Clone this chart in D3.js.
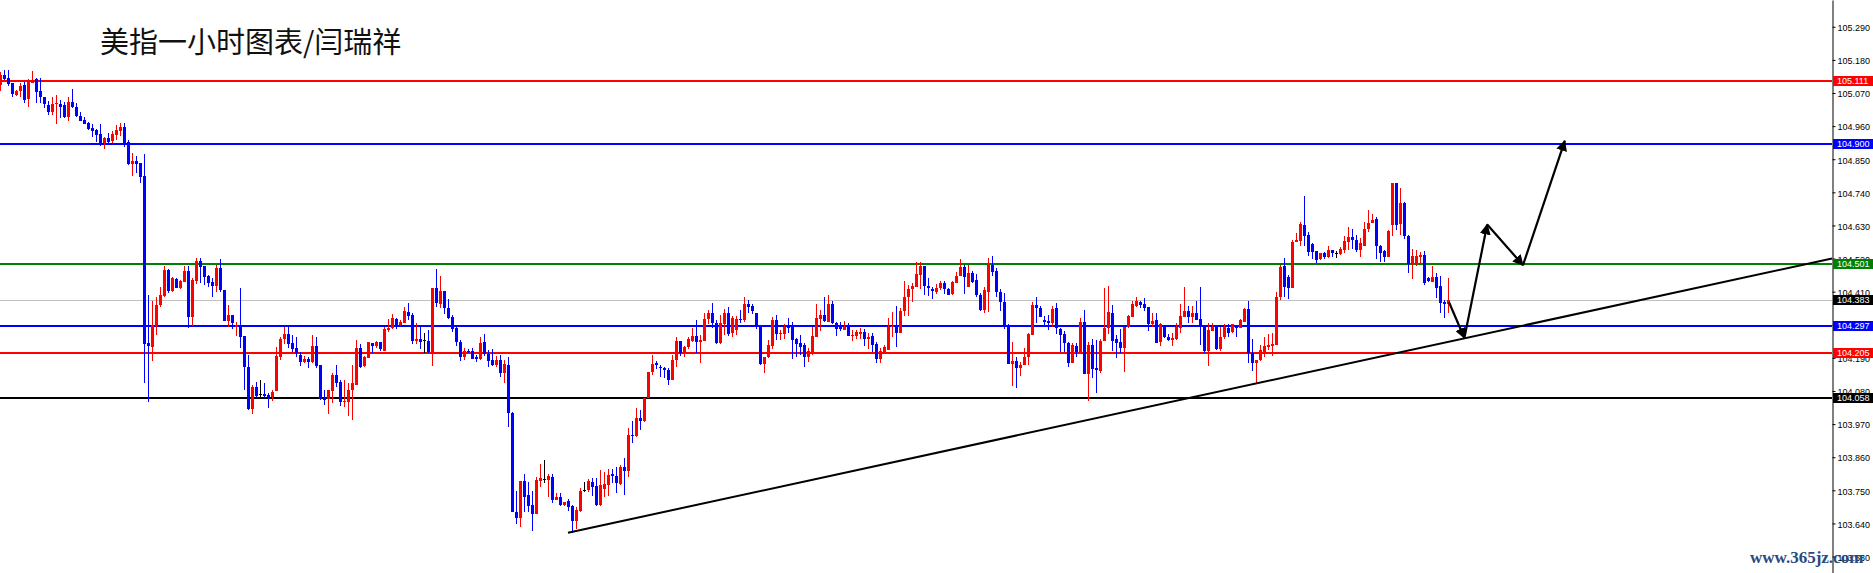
<!DOCTYPE html>
<html><head><meta charset="utf-8">
<script src="https://cdn.jsdelivr.net/npm/d3@7"></script>
<style>html,body{margin:0;padding:0;background:#fff;}svg{display:block;}</style>
</head><body>
<svg id="chart" width="1873" height="573"></svg>
<script>
const open = [
105.097,105.130,105.119,105.102,105.064,105.078,105.097,105.049,105.104,105.116,
105.078,105.056,105.030,105.007,105.033,105.034,105.030,104.991,105.039,105.025,
104.994,104.980,104.969,104.955,104.948,104.934,104.904,104.921,104.910,104.932,
104.944,104.957,104.907,104.834,104.844,104.838,104.794,104.241,104.227,104.296,
104.366,104.396,104.482,104.413,104.452,104.423,104.443,104.479,104.327,104.446,
104.511,104.496,104.462,104.443,104.429,104.488,104.416,104.313,104.333,104.294,
104.294,104.263,104.161,104.020,104.094,104.070,104.070,104.067,104.059,104.080,
104.192,104.254,104.269,104.241,104.223,104.199,104.176,104.187,104.176,104.230,
104.166,104.056,104.052,104.081,104.133,104.110,104.045,104.045,104.083,104.100,
104.223,104.164,104.191,104.238,104.231,104.242,104.213,104.283,104.290,104.319,
104.299,104.307,104.344,104.333,104.247,104.253,104.249,104.247,104.211,104.423,
104.369,104.412,104.355,104.327,104.288,104.243,104.194,104.214,104.213,104.192,
104.185,104.242,104.202,104.183,104.166,104.183,104.139,104.166,104.008,103.679,
103.657,103.781,103.735,103.701,103.671,103.782,103.787,103.784,103.795,103.718,
103.729,103.701,103.715,103.698,103.648,103.682,103.751,103.751,103.779,103.764,
103.701,103.754,103.768,103.804,103.799,103.770,103.829,103.815,103.934,103.931,
103.989,103.980,104.058,104.144,104.172,104.161,104.157,104.150,104.117,104.183,
104.247,104.207,104.227,104.247,104.263,104.244,104.247,104.318,104.340,104.307,
104.240,104.303,104.340,104.272,104.283,104.319,104.316,104.369,104.362,104.340,
104.296,104.169,104.192,104.230,104.316,104.269,104.269,104.294,104.294,104.253,
104.238,104.233,104.192,104.211,104.260,104.319,104.333,104.310,104.369,104.307,
104.292,104.283,104.292,104.263,104.263,104.268,104.276,104.254,104.263,104.236,
104.185,104.211,104.216,104.292,104.296,104.274,104.346,104.391,104.418,104.427,
104.466,104.495,104.430,104.419,104.410,104.421,104.438,104.419,104.402,104.438,
104.463,104.493,104.427,104.473,104.449,104.399,104.349,104.410,104.499,104.479,
104.408,104.375,104.296,104.170,104.180,104.157,104.165,104.192,104.266,104.366,
104.357,104.316,104.313,104.307,104.357,104.286,104.269,104.241,104.174,104.230,
104.211,104.310,104.137,104.233,104.155,104.148,104.246,104.288,104.340,104.253,
104.244,104.222,104.292,104.327,104.363,104.376,104.369,104.358,104.303,104.316,
104.244,104.294,104.258,104.249,104.253,104.288,104.327,104.347,104.325,104.340,
104.319,104.296,104.213,104.280,104.294,104.220,104.258,104.288,104.277,104.296,
104.288,104.310,104.351,104.205,104.174,104.183,104.211,104.227,104.230,104.233,
104.391,104.495,104.460,104.421,104.575,104.579,104.632,104.598,104.568,104.545,
104.518,104.540,104.526,104.548,104.537,104.535,104.548,104.576,104.593,104.582,
104.548,104.562,104.618,104.637,104.652,104.562,104.545,104.526,104.632,104.772,
104.635,104.704,104.596,104.501,104.502,104.524,104.532,104.457,104.443,104.458,
104.429,104.377,104.368];

const high = [
105.141,105.146,105.146,105.104,105.080,105.104,105.108,105.116,105.143,105.120,
105.120,105.058,105.044,105.056,105.063,105.047,105.039,105.056,105.083,105.038,
105.008,104.989,104.973,104.967,104.950,104.967,104.923,104.938,104.943,104.964,
104.971,104.971,104.914,104.872,104.861,104.838,104.867,104.399,104.380,104.393,
104.425,104.496,104.485,104.460,104.455,104.449,104.496,104.496,104.454,104.522,
104.522,104.496,104.465,104.454,104.499,104.519,104.416,104.366,104.333,104.310,
104.421,104.263,104.200,104.100,104.111,104.117,104.106,104.072,104.083,104.227,
104.260,104.294,104.294,104.266,104.258,104.209,104.196,104.192,104.266,104.260,
104.166,104.083,104.083,104.139,104.166,104.117,104.117,104.106,104.166,104.249,
104.236,104.196,104.244,104.238,104.247,104.242,104.294,104.319,104.335,104.324,
104.316,104.360,104.373,104.338,104.305,104.297,104.272,104.283,104.423,104.484,
104.462,104.412,104.385,104.333,104.292,104.249,104.222,104.220,104.222,104.200,
104.258,104.269,104.216,104.219,104.196,104.200,104.183,104.194,104.009,103.749,
103.782,103.804,103.777,103.749,103.793,103.838,103.851,103.804,103.804,103.742,
103.742,103.712,103.720,103.701,103.696,103.757,103.777,103.787,103.792,103.790,
103.818,103.812,103.821,103.821,103.827,103.834,103.857,103.956,103.980,104.023,
104.017,104.056,104.144,104.200,104.180,104.166,104.161,104.156,104.200,104.258,
104.247,104.230,104.258,104.288,104.316,104.266,104.338,104.349,104.373,104.316,
104.333,104.351,104.358,104.329,104.329,104.349,104.391,104.382,104.368,104.340,
104.296,104.194,104.249,104.327,104.333,104.283,104.303,104.322,104.308,104.257,
104.266,104.238,104.222,104.292,104.368,104.349,104.391,104.399,104.379,104.310,
104.308,104.313,104.305,104.283,104.283,104.288,104.285,104.272,104.272,104.243,
104.222,104.233,104.324,104.344,104.362,104.355,104.445,104.432,104.440,104.508,
104.508,104.495,104.454,104.427,104.436,104.446,104.446,104.421,104.446,104.474,
104.519,104.499,104.499,104.479,104.468,104.407,104.427,104.523,104.529,104.488,
104.418,104.407,104.303,104.244,104.194,104.177,104.224,104.272,104.377,104.391,
104.362,104.330,104.333,104.362,104.373,104.288,104.280,104.244,104.241,104.238,
104.322,104.349,104.244,104.252,104.249,104.253,104.421,104.429,104.366,104.266,
104.285,104.292,104.333,104.379,104.391,104.379,104.388,104.360,104.338,104.340,
104.307,104.296,104.269,104.274,104.305,104.368,104.427,104.362,104.362,104.379,
104.427,104.296,104.305,104.305,104.296,104.292,104.303,104.303,104.303,104.299,
104.318,104.355,104.379,104.252,104.183,104.233,104.260,104.268,104.272,104.410,
104.499,104.521,104.465,104.582,104.604,104.643,104.728,104.609,104.571,104.546,
104.540,104.543,104.562,104.548,104.546,104.557,104.595,104.624,104.617,104.598,
104.587,104.643,104.681,104.668,104.659,104.565,104.548,104.615,104.772,104.772,
104.753,104.709,104.598,104.551,104.548,104.543,104.546,104.460,104.495,104.473,
104.462,104.382,104.454];

const low = [
105.078,105.113,105.094,105.056,105.060,105.056,105.038,105.025,105.102,105.038,
105.038,105.019,104.997,104.997,104.966,104.988,104.988,104.978,105.021,104.991,
104.977,104.967,104.947,104.923,104.906,104.894,104.885,104.903,104.903,104.914,
104.927,104.892,104.831,104.795,104.805,104.770,104.106,104.045,104.180,104.266,
104.360,104.393,104.405,104.408,104.422,104.419,104.443,104.290,104.296,104.436,
104.440,104.432,104.427,104.393,104.410,104.410,104.313,104.294,104.285,104.263,
104.222,104.083,104.017,104.003,104.061,104.061,104.061,104.023,104.048,104.080,
104.183,104.235,104.222,104.209,104.194,104.164,104.172,104.155,104.172,104.157,
104.050,104.034,104.004,104.039,104.094,104.030,104.028,103.998,103.984,104.100,
104.157,104.161,104.189,104.207,104.224,104.214,104.213,104.277,104.285,104.286,
104.297,104.307,104.316,104.235,104.236,104.220,104.207,104.207,104.164,104.358,
104.357,104.336,104.319,104.277,104.231,104.181,104.183,104.205,104.186,104.177,
104.183,104.196,104.159,104.163,104.159,104.128,104.108,103.961,103.679,103.638,
103.629,103.679,103.679,103.616,103.671,103.760,103.773,103.729,103.707,103.718,
103.698,103.698,103.682,103.609,103.621,103.679,103.745,103.745,103.731,103.698,
103.698,103.729,103.731,103.773,103.740,103.768,103.735,103.795,103.908,103.928,
103.950,103.978,104.056,104.133,104.152,104.128,104.124,104.100,104.117,104.161,
104.196,104.194,104.219,104.244,104.207,104.174,104.247,104.303,104.288,104.236,
104.236,104.266,104.263,104.258,104.266,104.307,104.310,104.340,104.336,104.285,
104.166,104.141,104.189,104.219,104.249,104.249,104.252,104.274,104.185,104.194,
104.200,104.161,104.175,104.200,104.258,104.280,104.310,104.310,104.303,104.263,
104.280,104.283,104.263,104.247,104.253,104.253,104.230,104.219,104.211,104.172,
104.172,104.207,104.216,104.260,104.227,104.274,104.329,104.329,104.377,104.427,
104.418,104.399,104.396,104.385,104.401,104.416,104.402,104.399,104.399,104.438,
104.462,104.402,104.427,104.440,104.391,104.346,104.340,104.344,104.462,104.393,
104.347,104.285,104.170,104.097,104.091,104.131,104.165,104.166,104.266,104.307,
104.327,104.292,104.283,104.294,104.269,104.211,104.211,104.161,104.174,104.194,
104.211,104.137,104.048,104.122,104.074,104.139,104.246,104.269,104.213,104.191,
104.207,104.144,104.288,104.325,104.360,104.357,104.346,104.280,104.292,104.240,
104.230,104.255,104.246,104.230,104.249,104.272,104.327,104.307,104.307,104.316,
104.233,104.207,104.163,104.280,104.216,104.214,104.252,104.260,104.272,104.260,
104.288,104.310,104.172,104.148,104.108,104.181,104.194,104.216,104.196,104.233,
104.382,104.393,104.385,104.421,104.574,104.562,104.562,104.529,104.518,104.504,
104.515,104.518,104.521,104.524,104.521,104.532,104.539,104.548,104.551,104.543,
104.526,104.562,104.609,104.637,104.518,104.510,104.510,104.524,104.595,104.615,
104.598,104.584,104.473,104.451,104.495,104.504,104.432,104.443,104.443,104.388,
104.338,104.322,104.338];

const close = [
105.130,105.117,105.100,105.066,105.077,105.093,105.047,105.111,105.111,105.074,
105.056,105.033,105.007,105.034,105.038,105.025,104.991,105.039,105.024,104.995,
104.978,104.968,104.950,104.944,104.930,104.901,104.921,104.907,104.934,104.947,
104.957,104.901,104.834,104.844,104.835,104.792,104.237,104.230,104.298,104.366,
104.399,104.482,104.413,104.454,104.423,104.446,104.479,104.327,104.449,104.513,
104.493,104.460,104.438,104.430,104.488,104.416,104.314,104.333,104.305,104.299,
104.260,104.161,104.019,104.094,104.064,104.070,104.063,104.059,104.076,104.196,
104.253,104.269,104.236,104.221,104.207,104.176,104.187,104.176,104.230,104.164,
104.052,104.050,104.083,104.133,104.108,104.045,104.048,104.083,104.106,104.223,
104.161,104.194,104.242,104.230,104.242,104.219,104.286,104.290,104.322,104.298,
104.310,104.346,104.330,104.247,104.252,104.244,104.249,104.211,104.423,104.371,
104.412,104.355,104.324,104.286,104.244,104.194,104.213,104.210,104.187,104.185,
104.238,104.202,104.180,104.166,104.183,104.139,104.170,104.006,103.679,103.657,
103.781,103.727,103.698,103.670,103.784,103.790,103.787,103.798,103.718,103.729,
103.701,103.712,103.696,103.648,103.685,103.749,103.751,103.782,103.762,103.701,
103.768,103.771,103.801,103.798,103.773,103.827,103.815,103.934,103.931,103.989,
103.980,104.056,104.144,104.170,104.166,104.156,104.150,104.117,104.183,104.247,
104.207,104.227,104.252,104.263,104.244,104.249,104.319,104.340,104.307,104.240,
104.307,104.340,104.269,104.322,104.319,104.316,104.369,104.360,104.347,104.296,
104.170,104.194,104.232,104.316,104.269,104.274,104.294,104.288,104.249,104.236,
104.225,104.194,104.213,104.263,104.322,104.333,104.313,104.369,104.307,104.285,
104.287,104.292,104.263,104.267,104.276,104.277,104.254,104.260,104.233,104.185,
104.214,104.227,104.294,104.296,104.274,104.346,104.393,104.420,104.429,104.469,
104.495,104.430,104.421,104.413,104.421,104.440,104.418,104.399,104.442,104.462,
104.493,104.458,104.473,104.443,104.399,104.349,104.416,104.499,104.476,104.408,
104.375,104.296,104.170,104.181,104.156,104.166,104.194,104.269,104.366,104.357,
104.327,104.309,104.307,104.352,104.288,104.266,104.238,104.174,104.233,104.211,
104.310,104.137,104.233,104.152,104.150,104.246,104.288,104.343,104.247,104.241,
104.222,104.292,104.329,104.369,104.379,104.366,104.357,104.303,104.313,104.240,
104.303,104.260,104.249,104.257,104.292,104.329,104.347,104.327,104.340,104.316,
104.292,104.213,104.283,104.294,104.220,104.258,104.292,104.273,104.302,104.288,
104.316,104.351,104.205,104.174,104.183,104.216,104.230,104.233,104.236,104.391,
104.493,104.425,104.421,104.576,104.582,104.635,104.596,104.543,104.543,104.515,
104.537,104.526,104.548,104.537,104.537,104.551,104.579,104.593,104.582,104.548,
104.571,104.618,104.639,104.648,104.562,104.539,104.526,104.613,104.772,104.632,
104.704,104.596,104.502,104.529,104.529,104.532,104.440,104.446,104.458,104.421,
104.373,104.368,104.383];

const tickValues = [105.290,105.180,105.070,104.960,104.850,104.740,104.630,104.520,104.410,104.300,104.190,104.080,103.970,103.860,103.750,103.640,103.530];

const levelPrices = [105.111, 104.900, 104.501, 104.383, 104.297, 104.205, 104.058];
const levelColors = ["#ff0000", "#0000ff", "#008000", "#c0c0c0", "#0000ff", "#ff0000", "#000000"];
const levelLabelBg = ["#ff0000", "#0000ff", "#008000", "#000000", "#0000ff", "#ff0000", "#000000"];

const trendIdx = [142, 458];
const trendPrice = [103.609, 104.520];

const arrowIdx = [362.25, 366.1, 371.8, 380.75, 391.2];
const arrowPrice = [104.375, 104.256, 104.633, 104.498, 104.911];

const titleText = "美指一小时图表/闫瑞祥";
const watermarkText = "www.365jz.com";

const W = 1873, H = 573, axisX = 1832;
const svg = d3.select("#chart");
const x = d3.scaleLinear().domain([0, 1]).range([0, 4]);
const y = d3.scaleLinear().domain([103.4753, 105.379]).range([H, 0]);

const bars = open.map((o, i) => ({i, o, h: high[i], l: low[i], c: close[i]}));
const col = d => d.c > d.o ? "#ff0000" : (d.c < d.o ? "#0000ff" : "#000000");

const gC = svg.append("g").attr("shape-rendering", "crispEdges");

// horizontal levels (drawn under candles)
const gL = svg.append("g").attr("shape-rendering", "crispEdges");
levelPrices.forEach((p, k) => {
  const yy = Math.round(y(p));
  gL.append("rect").attr("x", 0).attr("width", axisX).attr("y", k === 3 ? yy : yy - 1)
    .attr("height", k === 3 ? 1 : 2).attr("fill", levelColors[k]);
});
gL.lower();

gC.selectAll("rect.w").data(bars).join("rect").attr("class", "w")
  .attr("x", d => Math.round(x(d.i)))
  .attr("width", 1)
  .attr("y", d => Math.round(y(d.h)))
  .attr("height", d => Math.max(1, Math.round(y(d.l)) - Math.round(y(d.h))))
  .attr("fill", col);
gC.selectAll("rect.b").data(bars).join("rect").attr("class", "b")
  .attr("x", d => Math.round(x(d.i)) - 1)
  .attr("width", 3)
  .attr("y", d => Math.round(y(Math.max(d.o, d.c))))
  .attr("height", d => Math.max(1, Math.round(y(Math.min(d.o, d.c))) - Math.round(y(Math.max(d.o, d.c)))))
  .attr("fill", col);

// trend line
svg.append("line")
  .attr("x1", x(trendIdx[0])).attr("y1", y(trendPrice[0]))
  .attr("x2", x(trendIdx[1])).attr("y2", y(trendPrice[1]))
  .attr("stroke", "#000").attr("stroke-width", 2);

// arrows
const defs = svg.append("defs");
defs.append("marker").attr("id", "ah").attr("viewBox", "0 0 10 10")
  .attr("refX", 9).attr("refY", 5).attr("markerWidth", 5).attr("markerHeight", 5)
  .attr("markerUnits", "strokeWidth").attr("orient", "auto")
  .append("path").attr("d", "M0,0 L10,5 L0,10 z").attr("fill", "#000");
for (let k = 0; k < arrowIdx.length - 1; k++) {
  svg.append("line")
    .attr("x1", x(arrowIdx[k])).attr("y1", y(arrowPrice[k]))
    .attr("x2", x(arrowIdx[k + 1])).attr("y2", y(arrowPrice[k + 1]))
    .attr("stroke", "#000").attr("stroke-width", 2.2).attr("marker-end", "url(#ah)");
}

// axis
const axis = d3.axisRight(y).tickValues(tickValues).tickSize(3).tickSizeOuter(0)
  .tickFormat(d3.format(".3f"));
const gA = svg.append("g").attr("transform", `translate(${axisX + 0.5},0)`).call(axis);
gA.select(".domain").attr("stroke", "#000");
gA.selectAll(".tick line").attr("stroke", "#000");
gA.selectAll(".tick text").attr("x", 5).attr("dy", "0.42em")
  .attr("font-family", "'Liberation Sans', Arial, sans-serif").attr("font-size", 9).attr("fill", "#000");

// level labels
const gLab = svg.append("g");
levelPrices.forEach((p, k) => {
  const yy = Math.round(y(p));
  gLab.append("rect").attr("x", axisX + 1).attr("y", yy - 5).attr("width", W - axisX - 1).attr("height", 10)
    .attr("fill", levelLabelBg[k]).attr("shape-rendering", "crispEdges");
  gLab.append("text").attr("x", axisX + 5).attr("y", yy).attr("dy", "0.36em")
    .attr("font-family", "'Liberation Sans', Arial, sans-serif").attr("font-size", 9)
    .attr("fill", "#fff").text(d3.format(".3f")(p));
});

// title
svg.append("text").attr("x", 100).attr("y", 53)
  .attr("font-family", "'Noto Sans CJK SC', sans-serif").attr("font-size", 29)
  .attr("fill", "#111").text(titleText);

// watermark
svg.append("text").attr("x", 1750).attr("y", 563)
  .attr("font-family", "'Liberation Serif', serif").attr("font-size", 17).attr("font-weight", "bold")
  .attr("fill", "#2a4a80").text(watermarkText);
</script>
</body></html>
